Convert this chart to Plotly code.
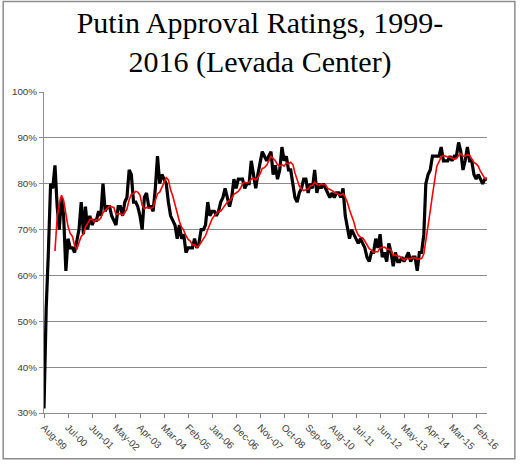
import pandas as pd
import plotly.graph_objects as go

start_month = "1999-08-01"

approval = [
    31, 53, 65, 80, 79,                                   # Aug-99 .. Dec-99
    84, 75, 70, 77, 73, 61, 68, 66, 66, 65, 68, 70,       # 2000
    76, 69, 75, 70, 73, 71, 72, 72, 74, 73, 80, 74,       # 2001
    75, 75, 73, 72, 71, 75, 75, 73, 76, 77, 83, 82,       # 2002
    76, 76, 75, 73, 70, 77, 78, 75, 75, 74, 79, 86,       # 2003
    80, 82, 81, 80, 76, 73, 72, 71, 68, 71, 68, 69,       # 2004
    65, 66, 66, 66, 68, 66, 67, 70, 70, 71, 76, 73,       # 2005
    74, 74, 73, 74, 76, 77, 79, 77, 75, 77, 81, 79,       # 2006
    81, 81, 81, 79, 80, 80, 85, 82, 79, 82, 85, 87,       # 2007
    86, 85, 86, 87, 82, 84, 81, 83, 88, 85, 86, 83,       # 2008
    83, 80, 77, 76, 78, 79, 81, 81, 78, 80, 79, 83,       # 2009
    78, 80, 79, 80, 79, 78, 77, 78, 77, 78, 78, 77,       # 2010
    79, 73, 71, 68, 70, 69, 68, 67, 68, 67, 66, 64,       # 2011
    63, 65, 65, 68, 66, 69, 64, 65, 63, 67, 65, 62,       # 2012
    65, 63, 63, 64, 63, 64, 65, 63, 64, 64, 61, 65,       # 2013
    65, 69, 80, 82, 83, 86, 86, 86, 86, 88, 85, 85,       # 2014
    85, 86, 85, 86, 86, 89, 87, 83, 85, 88, 85, 85,       # 2015
    82, 81, 82, 81, 80, 81, 81,                           # 2016
]

tick_labels = ["Aug-99", "Jul-00", "Jun-01", "May-02", "Apr-03", "Mar-04",
               "Feb-05", "Jan-06", "Dec-06", "Nov-07", "Oct-08", "Sep-09",
               "Aug-10", "Jul-11", "Jun-12", "May-13", "Apr-14", "Mar-15",
               "Feb-16"]

y_ticks = [30, 40, 50, 60, 70, 80, 90, 100]

months = pd.date_range(start_month, periods=len(approval), freq="MS")
tick_dates = [pd.to_datetime(t, format="%b-%y") for t in tick_labels]

# Excel-style 6-period moving-average trendline of the series
moving_avg = pd.Series(approval).rolling(6).mean()

fig = go.Figure()
fig.add_trace(go.Scatter(x=months, y=approval, mode="lines",
                         line=dict(color="black", width=3.2),
                         hoverinfo="skip", showlegend=False))
fig.add_trace(go.Scatter(x=months, y=moving_avg, mode="lines",
                         line=dict(color="#FF0000", width=1.6),
                         hoverinfo="skip", showlegend=False))

tick_font = dict(family="Liberation Sans, Arial, sans-serif", size=9.8, color="#404040")

fig.update_layout(
    width=520, height=465,
    margin=dict(l=42, r=33, t=92, b=48),
    paper_bgcolor="white", plot_bgcolor="white",
    title=dict(text="Putin Approval Ratings, 1999-<br>2016 (Levada Center)",
               font=dict(family="Liberation Serif, Times New Roman, serif", size=30, color="black"),
               x=0.5, xanchor="center", y=0.928, yanchor="top"),
    xaxis=dict(range=[months[0], months[-1]], tickmode="array",
               tickvals=tick_dates, ticktext=tick_labels, tickangle=45,
               ticks="outside", ticklen=4, tickcolor="#8c8c8c",
               showline=True, linecolor="#8c8c8c", linewidth=1,
               showgrid=False, zeroline=False, tickfont=tick_font),
    yaxis=dict(range=[30, 100], tickmode="array", tickvals=y_ticks,
               ticktext=[f"{v}%" for v in y_ticks],
               ticks="outside", ticklen=4, tickcolor="#8c8c8c",
               showline=True, linecolor="#8c8c8c", linewidth=1,
               showgrid=True, gridcolor="#8c8c8c", gridwidth=1,
               zeroline=False, tickfont=tick_font),
    shapes=[dict(type="rect", xref="paper", yref="paper",
                 x0=-41/445, x1=473/445, y0=-46.3/324.2, y1=415.7/324.2,
                 line=dict(color="#8c8c8c", width=1.5), fillcolor="rgba(0,0,0,0)",
                 layer="below")],
)

fig.write_html("out.html")
